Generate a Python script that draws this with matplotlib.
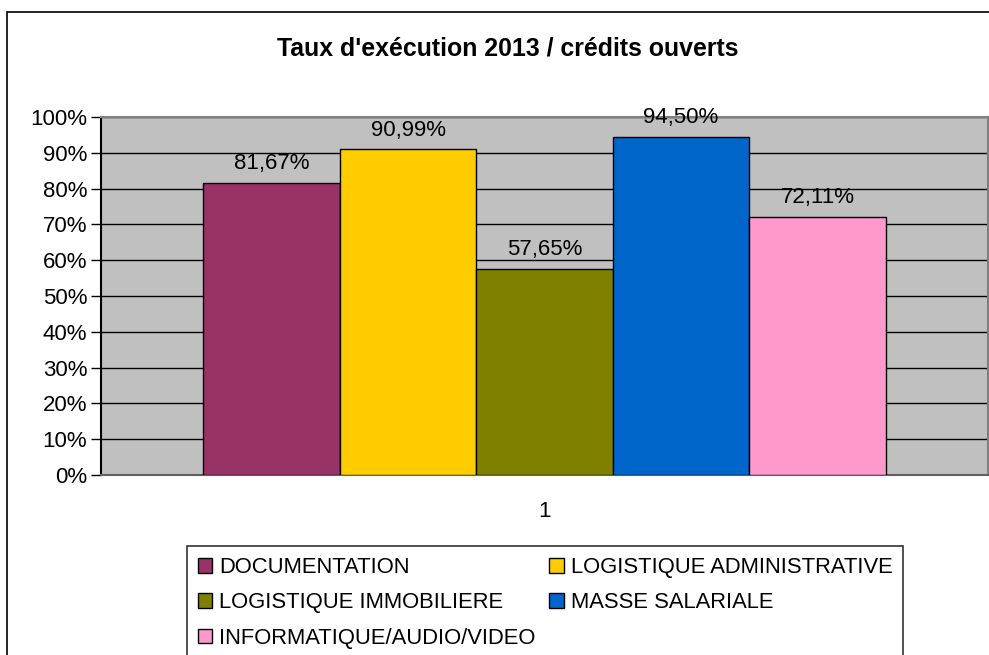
import matplotlib.pyplot as plt
from matplotlib.patches import Rectangle
from matplotlib.ticker import FuncFormatter, MultipleLocator

TITLE = "Taux d'exécution 2013 / crédits ouverts"
SERIES = [
    "DOCUMENTATION",
    "LOGISTIQUE ADMINISTRATIVE",
    "LOGISTIQUE IMMOBILIERE",
    "MASSE SALARIALE",
    "INFORMATIQUE/AUDIO/VIDEO",
]
VALUES = [81.67, 90.99, 57.65, 94.50, 72.11]
COLORS = ["#993366", "#FFCC00", "#808000", "#0066CC", "#FF99CC"]
CATEGORY = "1"

plt.rcParams["font.family"] = ["Liberation Sans", "DejaVu Sans"]

W, H = 989, 655
fig = plt.figure(figsize=(W / 100, H / 100), dpi=100)

# outer chart frame (cut off on the right and bottom like the reference)
fig.patches.append(Rectangle((7 / W, -0.1), 1.2, 1 - 12 / H + 0.1, transform=fig.transFigure,
                             fill=False, edgecolor="black", linewidth=1.2, clip_on=False))

ax = fig.add_axes([101 / W, 1 - 475 / H, (988 - 101) / W, (475 - 117) / H])
ax.set_facecolor("#C0C0C0")

n = len(VALUES)
width = 1 / (n + 1.5)
handles = []
for i, (name, val, col) in enumerate(zip(SERIES, VALUES, COLORS)):
    x = 1 + (i - (n - 1) / 2) * width
    b = ax.bar(x, val, width=width, color=col, edgecolor="black", linewidth=1.0, label=name, zorder=3)
    handles.append(b)
    ax.text(x, val + 2.4, f"{val:.2f}%".replace(".", ","), ha="center", va="bottom",
            fontsize=16, zorder=4)

ax.set_xlim(0.5, 1.5)
ax.set_ylim(0, 100)
ax.yaxis.set_major_locator(MultipleLocator(10))
ax.yaxis.set_major_formatter(FuncFormatter(lambda v, _: f"{v:.0f}%"))
ax.grid(True, axis="y", color="black", linewidth=1.0, zorder=1)
ax.set_axisbelow(True)
ax.set_xticks([1], [CATEGORY])
ax.tick_params(axis="x", length=0, pad=19, labelsize=16)
ax.tick_params(axis="y", length=7, width=1, direction="out", labelsize=16, pad=3)
ax.spines["left"].set_color("black")
ax.spines["top"].set_color("#808080")
ax.spines["bottom"].set_color("#606060")
ax.spines["right"].set_color("#808080")
for s in ax.spines.values():
    s.set_linewidth(1.5)

fig.text((278 + 737) / 2 / W, 1 - 49 / H, TITLE, ha="center", va="center",
         fontsize=17.9, fontweight="bold")

# legend fills row by row in the reference; matplotlib fills by column
order = [0, 2, 4, 1, 3]
leg = fig.legend([handles[i] for i in order], [SERIES[i] for i in order],
                 loc="upper left", bbox_to_anchor=(187 / W, 1 - 546 / H), ncol=2,
                 frameon=True, fancybox=False, edgecolor="black", fontsize=15.8,
                 handlelength=0.64, handleheight=0.64, handletextpad=0.32,
                 columnspacing=0.64, labelspacing=0.66, borderpad=0.5, borderaxespad=0)
leg.get_frame().set_linewidth(1.2)

fig.savefig("out.png", dpi=100)
